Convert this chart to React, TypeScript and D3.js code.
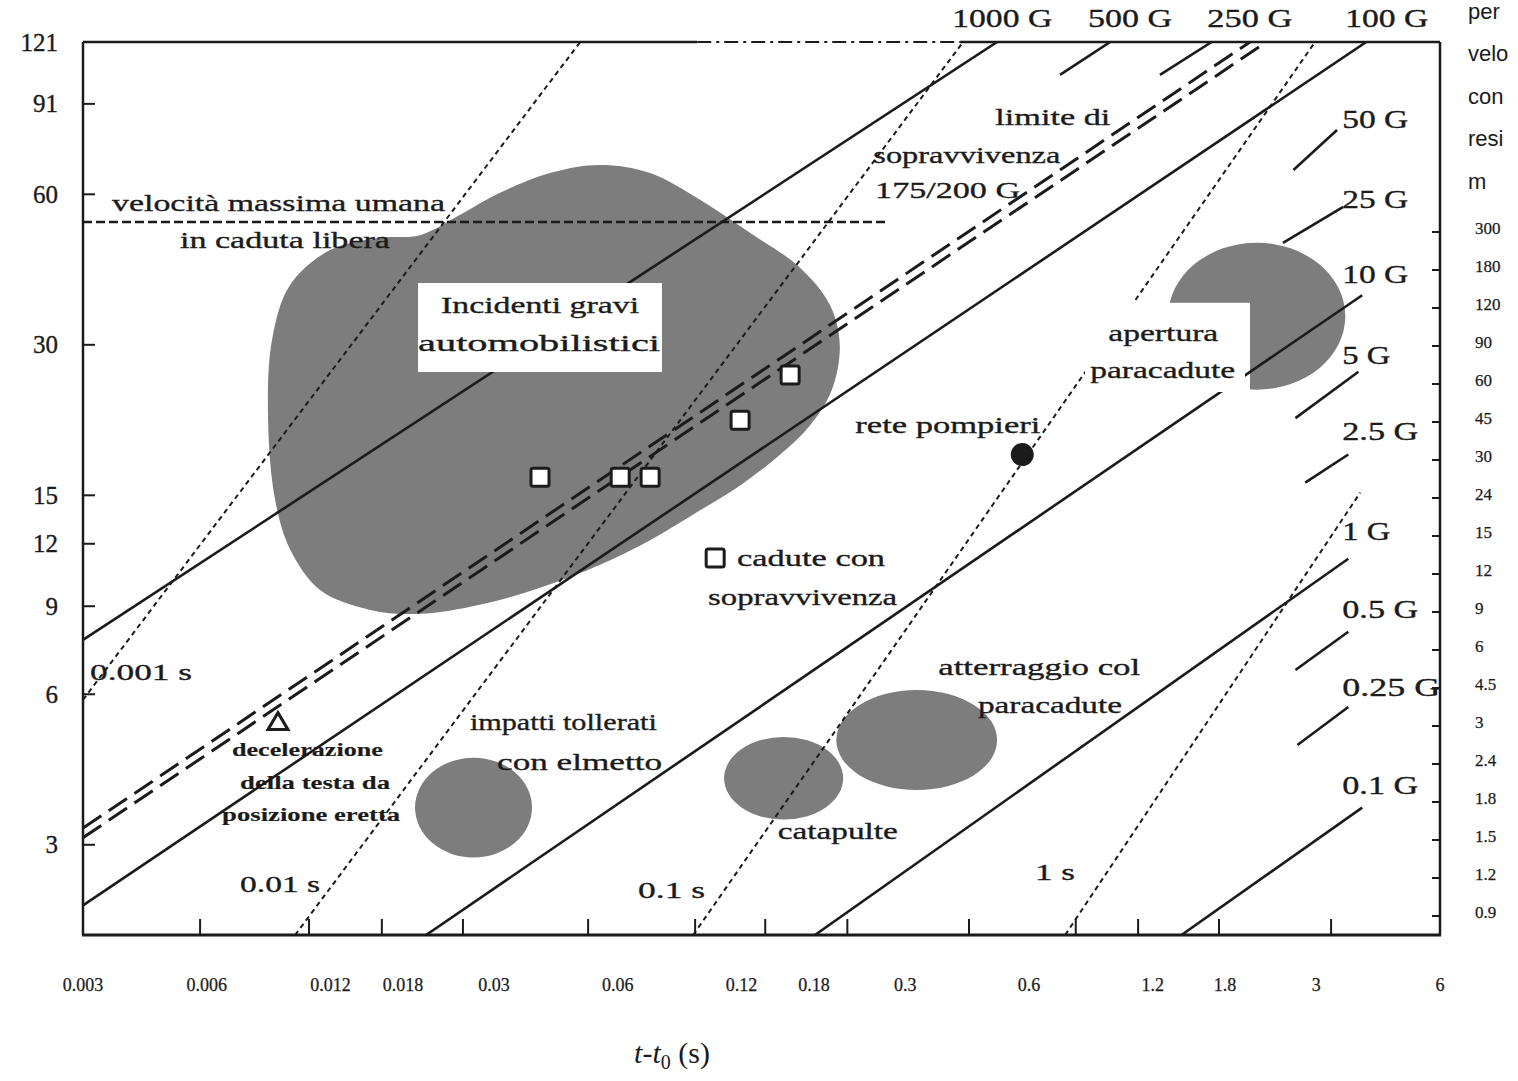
import React from 'react';
import * as d3 from 'd3';

// ---------------- DATA ----------------
// axis domains (t in s, v as on left axis)
const T_DOMAIN: [number, number] = [0.003, 6];
const V_DOMAIN: [number, number] = [1.98, 121];

const xTickLabels = [0.003, 0.006, 0.012, 0.018, 0.03, 0.06, 0.12, 0.18, 0.3, 0.6, 1.2, 1.8, 3, 6];
const xTickMarks = [0.00578, 0.01064, 0.016, 0.0252, 0.0508, 0.0925, 0.137, 0.217, 0.429, 0.78, 1.106, 1.74, 3.26];
const yTickLabels = [121, 91, 60, 30, 15, 12, 9, 6, 3];
const rightAxisLabels = ['300', '180', '120', '90', '60', '45', '30', '24', '15', '12', '9', '6', '4.5', '3', '2.4', '1.8', '1.5', '1.2', '0.9'];
// right-hand caption, as far as it is visible at the picture's edge
const rightTitleLines = ['per', 'velo', 'con', 'resi', 'm'];

// constant-deceleration lines (solid)
const gLines = [
  { label: '1000 G', t: [0.003, 0.502], v: [7.71, 121] },
  { label: '100 G', t: [0.003, 3.97], v: [2.27, 121] },
  { label: '10 G', t: [0.0205, 3.88], v: [1.98, 37.7] },
  { label: '1 G', t: [0.181, 3.59], v: [1.98, 11.2] },
  { label: '0.1 G', t: [1.41, 3.88], v: [1.98, 3.56] },
];
// short label stubs of intermediate G lines
const gStubs = [
  { label: '500 G', t: [0.714, 0.946], v: [104, 121] },
  { label: '250 G', t: [1.25, 1.67], v: [104, 121] },
  { label: '50 G', t: [2.64, 3.37], v: [67.1, 80.7] },
  { label: '25 G', t: [2.49, 3.49], v: [48, 56.6] },
  { label: '5 G', t: [2.67, 3.8], v: [21.4, 26.5] },
  { label: '2.5 G', t: [2.82, 3.59], v: [15.9, 18.1] },
  { label: '0.5 G', t: [2.67, 3.59], v: [6.71, 8.0] },
  { label: '0.25 G', t: [2.7, 3.59], v: [4.75, 5.66] },
];
// constant-duration lines (dotted)
const durationLines = [
  { label: '0.001 s', t: [0.003, 0.0486], v: [5.85, 121] },
  { label: '0.01 s', t: [0.00984, 0.415], v: [1.98, 121] },
  { label: '0.1 s', t: [0.0915, 2.98], v: [1.98, 121] },
  { label: '1 s', t: [0.735, 3.84], v: [1.98, 15.2] },
];
// survival limit 175/200 G (double dashed)
const survivalLimit = [
  { t: [0.003, 2.07], v: [3.24, 121] },
  { t: [0.003, 2.27], v: [3.10, 121] },
];
// max human free-fall speed (horizontal dashed)
const freeFall = { t: [0.003, 0.268], v: 52.8 };

// markers
const survivedFalls = [
  { t: 0.0388, v: 16.3 },
  { t: 0.0608, v: 16.3 },
  { t: 0.0719, v: 16.3 },
  { t: 0.119, v: 21.2 },
  { t: 0.1575, v: 26.1 },
];
const legendSquare = { t: 0.1035, v: 11.24 };
const headDecel = { t: 0.00894, v: 5.29 };
const fireNet = { t: 0.578, v: 18.1 };

// region: serious car accidents (outline)
const carCrashT = [0.0198, 0.0248, 0.031, 0.041, 0.0543, 0.0719, 0.0951, 0.126, 0.166, 0.197, 0.208, 0.199, 0.176, 0.149, 0.119, 0.0951, 0.0719, 0.0543, 0.0388, 0.0277, 0.0198, 0.01498, 0.01132, 0.00957, 0.0088, 0.00846, 0.00865, 0.00957, 0.01197, 0.01584];
const carCrashV = [49.7, 54.6, 60.4, 66.2, 68.7, 66.2, 58.5, 50.2, 42.9, 36.0, 30.0, 24.4, 20.7, 18.1, 15.7, 14.0, 12.2, 10.9, 9.8, 9.06, 8.69, 8.85, 9.7, 11.7, 14.7, 21.2, 30.7, 39.5, 46.4, 49.1];

// elliptical regions: extents in t and v
const regions = [
  { name: 'helmet', t: [0.01927, 0.0371], v: [2.83, 4.48] },
  { name: 'catapult', t: [0.1088, 0.212], v: [3.37, 4.93] },
  { name: 'landing', t: [0.204, 0.502], v: [3.86, 6.12] },
];
const chuteOpening = { t: [1.31, 3.53], v: [24.4, 48.0], notch: { t: 2.07, v: 36.4 } };

// annotations: text, anchor (t, v) = left/centre-line, target width
const annotations = [
  { text: 'velocità massima umana', t: 0.00353, v: 57.7, w: 333 },
  { text: 'in caduta libera', t: 0.005165, v: 48.6, w: 210 },
  { text: 'Incidenti gravi', t: 0.02229, v: 36.0, w: 198 },
  { text: 'automobilistici', t: 0.0196, v: 30.3, w: 242 },
  { text: 'limite di', t: 0.497, v: 85.7, w: 115 },
  { text: 'sopravvivenza', t: 0.251, v: 71.9, w: 187 },
  { text: '175/200 G', t: 0.2535, v: 61.2, w: 145 },
  { text: 'apertura', t: 0.9358, v: 31.7, w: 110 },
  { text: 'paracadute', t: 0.8458, v: 26.7, w: 145 },
  { text: 'rete pompieri', t: 0.227, v: 20.7, w: 185 },
  { text: 'cadute con', t: 0.117, v: 11.24, w: 148 },
  { text: 'sopravvivenza', t: 0.0995, v: 9.4, w: 189 },
  { text: 'atterraggio col', t: 0.361, v: 6.81, w: 202 },
  { text: 'paracadute', t: 0.451, v: 5.72, w: 144 },
  { text: 'catapulte', t: 0.147, v: 3.19, w: 120 },
  { text: 'impatti tollerati', t: 0.0262, v: 5.29, w: 187 },
  { text: 'con elmetto', t: 0.0305, v: 4.4, w: 165 },
  { text: '0.001 s', t: 0.00312, v: 6.65, w: 102 },
  { text: '0.01 s', t: 0.00723, v: 2.5, w: 80 },
  { text: '0.1 s', t: 0.0672, v: 2.44, w: 67 },
  { text: '1 s', t: 0.621, v: 2.65, w: 40 },
];
const smallAnnotations = [
  { text: 'decelerazione', t: 0.00691, v: 4.65, w: 151 },
  { text: 'della testa da', t: 0.00723, v: 3.99, w: 150 },
  { text: 'posizione eretta', t: 0.00654, v: 3.44, w: 178 },
];
const gLabels = [
  { text: '1000 G', t: 0.3904, v: 135, w: 100 },
  { text: '500 G', t: 0.836, v: 135, w: 84 },
  { text: '250 G', t: 1.63, v: 135, w: 85 },
  { text: '100 G', t: 3.53, v: 135, w: 83 },
  { text: '50 G', t: 3.47, v: 84.5, w: 66 },
  { text: '25 G', t: 3.47, v: 58.5, w: 66 },
  { text: '10 G', t: 3.47, v: 41.4, w: 66 },
  { text: '5 G', t: 3.47, v: 28.6, w: 48 },
  { text: '2.5 G', t: 3.47, v: 20.1, w: 76 },
  { text: '1 G', t: 3.47, v: 12.7, w: 48 },
  { text: '0.5 G', t: 3.47, v: 8.85, w: 76 },
  { text: '0.25 G', t: 3.47, v: 6.18, w: 98 },
  { text: '0.1 G', t: 3.47, v: 3.95, w: 76 },
];
const topBorderBreak = [0.0936, 0.408];

// ---------------- CHART ----------------
const W = 1518;
const H = 1081;
const M = { left: 83, right: 1440, top: 42, bottom: 935 };
const SERIF = '"Liberation Serif", "DejaVu Serif", serif';
const INK = '#1b1b1b';
const GRAY = '#7d7d7d';

export default function App() {
  const x = d3.scaleLog().domain(T_DOMAIN).range([M.left, M.right]);
  const y = d3.scaleLog().domain(V_DOMAIN).range([M.bottom, M.top]);
  const line = d3.line<[number, number]>().x((d) => x(d[0])).y((d) => y(d[1]));
  const seg = (s: { t: number[]; v: number[] }) =>
    line([[s.t[0], s.v[0]], [s.t[1], s.v[1]]]) as string;

  const blobPath = d3
    .line<[number, number]>()
    .x((d) => x(d[0]))
    .y((d) => y(d[1]))
    .curve(d3.curveCatmullRomClosed.alpha(0.5))(
    carCrashT.map((t, i) => [t, carCrashV[i]] as [number, number])
  ) as string;

  const ell = (r: { t: number[]; v: number[] }) => {
    const x0 = x(r.t[0]), x1 = x(r.t[1]);
    const y0 = y(r.v[1]), y1 = y(r.v[0]);
    return { cx: (x0 + x1) / 2, cy: (y0 + y1) / 2, rx: (x1 - x0) / 2, ry: (y1 - y0) / 2 };
  };
  const co = ell(chuteOpening);
  const nx = x(chuteOpening.notch.t);
  const ny = y(chuteOpening.notch.v);

  const rightScale = d3.scalePoint<string>().domain(rightAxisLabels).range([228, 912]);

  const sq = 18;
  const textInk = { fill: INK, stroke: INK, strokeWidth: 0.35 };

  return (
    <svg
      width={W}
      height={H}
      style={{ position: 'absolute', left: 0, top: 0, background: '#fff' }}
      fontFamily={SERIF}
    >
      <defs>
        <clipPath id="plot">
          <rect x={M.left} y={M.top} width={M.right - M.left} height={M.bottom - M.top} />
        </clipPath>
        <clipPath id="notch">
          <path
            clipRule="evenodd"
            d={`M0,0H${W}V${H}H0Z M${nx - 200},${ny}H${nx}V${ny + 200}H${nx - 200}Z`}
          />
        </clipPath>
      </defs>
      <rect x={0} y={0} width={W} height={H} fill="#fff" />

      {/* regions */}
      <g fill={GRAY}>
        <path d={blobPath} />
        {regions.map((r) => {
          const e = ell(r);
          return <ellipse key={r.name} cx={e.cx} cy={e.cy} rx={e.rx} ry={e.ry} />;
        })}
        <ellipse cx={co.cx} cy={co.cy} rx={co.rx} ry={co.ry} clipPath="url(#notch)" />
      </g>

      <g clipPath="url(#plot)" fill="none" stroke={INK}>
        {/* free fall */}
        <line
          x1={x(freeFall.t[0])}
          x2={x(freeFall.t[1])}
          y1={y(freeFall.v)}
          y2={y(freeFall.v)}
          strokeWidth={2.5}
          strokeDasharray="9,4"
        />
        {/* G lines */}
        {gLines.map((g) => (
          <path key={g.label} d={seg(g)} strokeWidth={2.6} />
        ))}
        {gStubs.map((g) => (
          <path key={g.label} d={seg(g)} strokeWidth={2.6} />
        ))}
        {/* survival limit */}
        {survivalLimit.map((s, i) => (
          <path key={i} d={seg(s)} strokeWidth={3} strokeDasharray="22,9" />
        ))}
        {/* durations */}
        {durationLines.map((d) => (
          <path key={d.label} d={seg(d)} strokeWidth={2} strokeDasharray="5,4" />
        ))}
      </g>

      {/* markers */}
      <g stroke={INK} strokeWidth={3} fill="#fff">
        {[...survivedFalls, legendSquare].map((p, i) => (
          <rect key={i} x={x(p.t) - sq / 2} y={y(p.v) - sq / 2} width={sq} height={sq} rx={2} />
        ))}
        <path
          d={`M${x(headDecel.t)},${y(headDecel.v) - 9}L${x(headDecel.t) + 10},${y(headDecel.v) + 8}L${x(headDecel.t) - 10},${y(headDecel.v) + 8}Z`}
        />
        <circle cx={x(fireNet.t)} cy={y(fireNet.v)} r={10} fill={INK} />
      </g>

      {/* label boxes */}
      <rect x={418} y={283} width={244} height={89} fill="#fff" />
      <rect x={1085} y={303} width={160} height={89} fill="#fff" />

      {/* annotations */}
      <g {...textInk} fontSize={24}>
        {annotations.map((a, i) => (
          <text
            key={i}
            x={x(a.t)}
            y={y(a.v)}
            dominantBaseline="central"
            textLength={a.w}
            lengthAdjust="spacingAndGlyphs"
          >
            {a.text}
          </text>
        ))}
        {gLabels.map((a, i) => (
          <text
            key={i}
            x={x(a.t)}
            y={y(a.v)}
            dominantBaseline="central"
            textLength={a.w}
            lengthAdjust="spacingAndGlyphs"
            fontSize={25}
          >
            {a.text}
          </text>
        ))}
      </g>
      <g {...textInk} fontSize={18} fontWeight={700} strokeWidth={0.15}>
        {smallAnnotations.map((a, i) => (
          <text
            key={i}
            x={x(a.t)}
            y={y(a.v)}
            dominantBaseline="central"
            textLength={a.w}
            lengthAdjust="spacingAndGlyphs"
          >
            {a.text}
          </text>
        ))}
      </g>

      {/* frame */}
      <g stroke={INK} fill="none">
        <line x1={M.left} x2={M.left} y1={M.top} y2={M.bottom} strokeWidth={2.5} />
        <line x1={M.right} x2={M.right} y1={M.top} y2={M.bottom} strokeWidth={2.5} />
        <line x1={M.left - 1} x2={M.right + 1} y1={M.bottom} y2={M.bottom} strokeWidth={3} />
        <line x1={M.left} x2={x(topBorderBreak[0])} y1={M.top} y2={M.top} strokeWidth={2.5} />
        <line
          x1={x(topBorderBreak[0])}
          x2={x(topBorderBreak[1])}
          y1={M.top}
          y2={M.top}
          strokeWidth={2}
          strokeDasharray="14,5,3,5"
        />
        <line x1={x(topBorderBreak[1])} x2={M.right} y1={M.top} y2={M.top} strokeWidth={2.5} />
        {/* left ticks */}
        {yTickLabels
          .filter((v) => v < V_DOMAIN[1])
          .map((v) => (
            <line key={v} x1={M.left} x2={M.left + 12} y1={y(v)} y2={y(v)} strokeWidth={2} />
          ))}
        {/* bottom ticks */}
        {xTickMarks.map((t) => (
          <line key={t} x1={x(t)} x2={x(t)} y1={M.bottom} y2={M.bottom - 16} strokeWidth={2} />
        ))}
        {/* right ticks */}
        {rightAxisLabels.map((l) => (
          <line
            key={l}
            x1={M.right - 8}
            x2={M.right}
            y1={(rightScale(l) as number) + 4}
            y2={(rightScale(l) as number) + 4}
            strokeWidth={2}
          />
        ))}
      </g>

      {/* axis labels */}
      <g {...textInk}>
        {yTickLabels.map((v) => (
          <text key={v} x={58} y={y(v)} textAnchor="end" dominantBaseline="central" fontSize={25}>
            {v}
          </text>
        ))}
      </g>
      <g fill={INK} stroke={INK} strokeWidth={0.25}>
        {xTickLabels.map((t) => (
          <text key={t} x={x(t)} y={985} textAnchor="middle" dominantBaseline="central" fontSize={18}>
            {t}
          </text>
        ))}
        {rightAxisLabels.map((l) => (
          <text key={l} x={1475} y={rightScale(l)} dominantBaseline="central" fontSize={17}>
            {l}
          </text>
        ))}
      </g>
      <g fill={INK}>
        <text x={672} y={1063} textAnchor="middle" fontSize={30}>
          <tspan fontStyle="italic">t</tspan>
          <tspan>-</tspan>
          <tspan fontStyle="italic">t</tspan>
          <tspan fontSize={20} dy={6}>0</tspan>
          <tspan dy={-6}> (s)</tspan>
        </text>
        {rightTitleLines.map((s, i) => (
          <text
            key={s}
            x={1468}
            y={11 + i * 42.5}
            dominantBaseline="central"
            fontSize={22}
            fontFamily='"Liberation Sans", Arial, sans-serif'
          >
            {s}
          </text>
        ))}
      </g>
    </svg>
  );
}
